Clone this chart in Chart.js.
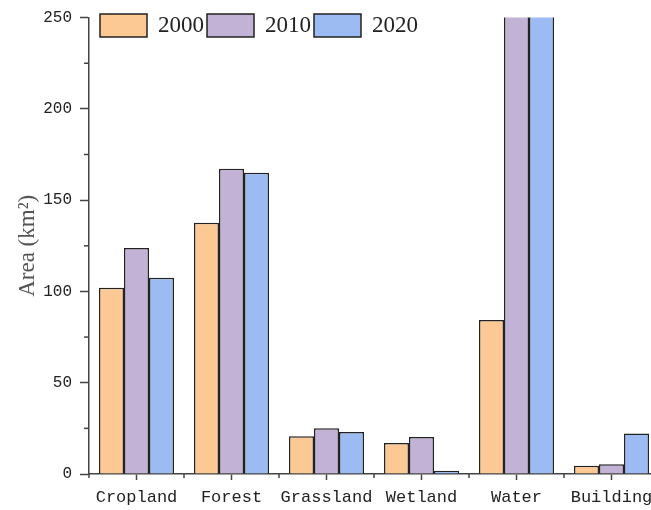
<!DOCTYPE html>
<html>
<head>
<meta charset="utf-8">
<script src="https://cdn.jsdelivr.net/npm/chart.js@4.4.0/dist/chart.umd.min.js"></script>
<style>
  html, body { margin: 0; padding: 0; background: #fff; overflow: hidden; }
  #wrap { width: 670px; height: 510px; }
</style>
</head>
<body>
<div id="wrap"><canvas id="barChart" width="670" height="510"></canvas></div>
<script>
var categories = ['Cropland', 'Forest', 'Grassland', 'Wetland', 'Water', 'Building'];
var years = ['2000', '2010', '2020'];
var area2000 = [102, 137.6, 20.7, 17, 84.4, 4.5];
var area2010 = [123.8, 167.2, 25, 20.3, 285, 5.3];
var area2020 = [107.5, 165, 23, 1.8, 290, 22.2];
var yTicks = [0, 50, 100, 150, 200, 250];
var colors = ['#fcc995', '#c2b2d6', '#9bbbf2'];
var axisColor = '#444';

// minor ticks + legend inside the plot
var extras = {
  id: 'extras',
  afterDraw: function(chart) {
    var ctx = chart.ctx;
    var xs = chart.scales.x, ys = chart.scales.y;
    ctx.save();
    ctx.strokeStyle = axisColor;
    ctx.lineWidth = 1.5;
    // y minor ticks
    for (var v = 25; v < 250; v += 50) {
      var py = ys.getPixelForValue(v);
      ctx.beginPath();
      ctx.moveTo(ys.right, py);
      ctx.lineTo(ys.right - 5, py);
      ctx.stroke();
    }
    // x minor ticks at category edges
    for (var i = 0; i <= categories.length; i++) {
      var px = xs.getPixelForValue(i - 0.5);
      ctx.beginPath();
      ctx.moveTo(px, xs.top);
      ctx.lineTo(px, xs.top + 4);
      ctx.stroke();
    }
    // legend
    var x = 100, y = 14;
    ctx.font = '23px "Liberation Serif"';
    ctx.textBaseline = 'middle';
    chart.data.datasets.forEach(function(ds) {
      ctx.fillStyle = ds.backgroundColor;
      ctx.fillRect(x, y, 47, 23);
      ctx.strokeStyle = '#222';
      ctx.lineWidth = 1.5;
      ctx.strokeRect(x, y, 47, 23);
      ctx.fillStyle = '#222';
      ctx.fillText(ds.label, x + 58, y + 12);
      x += 58 + ctx.measureText(ds.label).width + 3;
    });
    ctx.restore();
  }
};

function makeSet(label, values, color) {
  return {
    label: label,
    data: values,
    backgroundColor: color,
    borderColor: '#222',
    borderWidth: 1.5,
    categoryPercentage: 0.79,
    barPercentage: 1
  };
}

var ctx = document.getElementById('barChart').getContext('2d');
var barChart = new Chart(ctx, {
  type: 'bar',
  data: {
    labels: categories,
    datasets: [
      makeSet(years[0], area2000, colors[0]),
      makeSet(years[1], area2010, colors[1]),
      makeSet(years[2], area2020, colors[2])
    ]
  },
  options: {
    responsive: false,
    animation: false,
    devicePixelRatio: 1,
    layout: { padding: { left: 0, right: 11, top: 15, bottom: 0 } },
    plugins: { legend: { display: false }, tooltip: { enabled: false } },
    scales: {
      x: {
        grid: { display: true, drawOnChartArea: false, offset: false, tickLength: 6, tickColor: axisColor, tickWidth: 1.5 },
        border: { color: axisColor, width: 1.5 },
        ticks: { color: '#222', padding: 7, maxRotation: 0, minRotation: 0, autoSkip: false,
                 font: { family: 'Liberation Mono', size: 17 } },
        afterFit: function(scale) { scale.height = 36; }
      },
      y: {
        min: 0,
        max: 250,
        afterBuildTicks: function(scale) {
          scale.ticks = yTicks.map(function(v) { return { value: v }; });
        },
        grid: { drawOnChartArea: false, tickLength: 9, tickColor: axisColor, tickWidth: 1.5 },
        border: { color: axisColor, width: 1.5 },
        ticks: { color: '#222', padding: 8, font: { family: 'Liberation Mono', size: 16 } },
        title: {
          display: true,
          text: 'Area (km\u00b2)',
          color: '#555',
          padding: { top: 14, bottom: 0 },
          font: { family: 'Liberation Serif', size: 23 }
        },
        afterFit: function(scale) { scale.width = 89; }
      }
    }
  },
  plugins: [extras]
});
</script>
</body>
</html>
